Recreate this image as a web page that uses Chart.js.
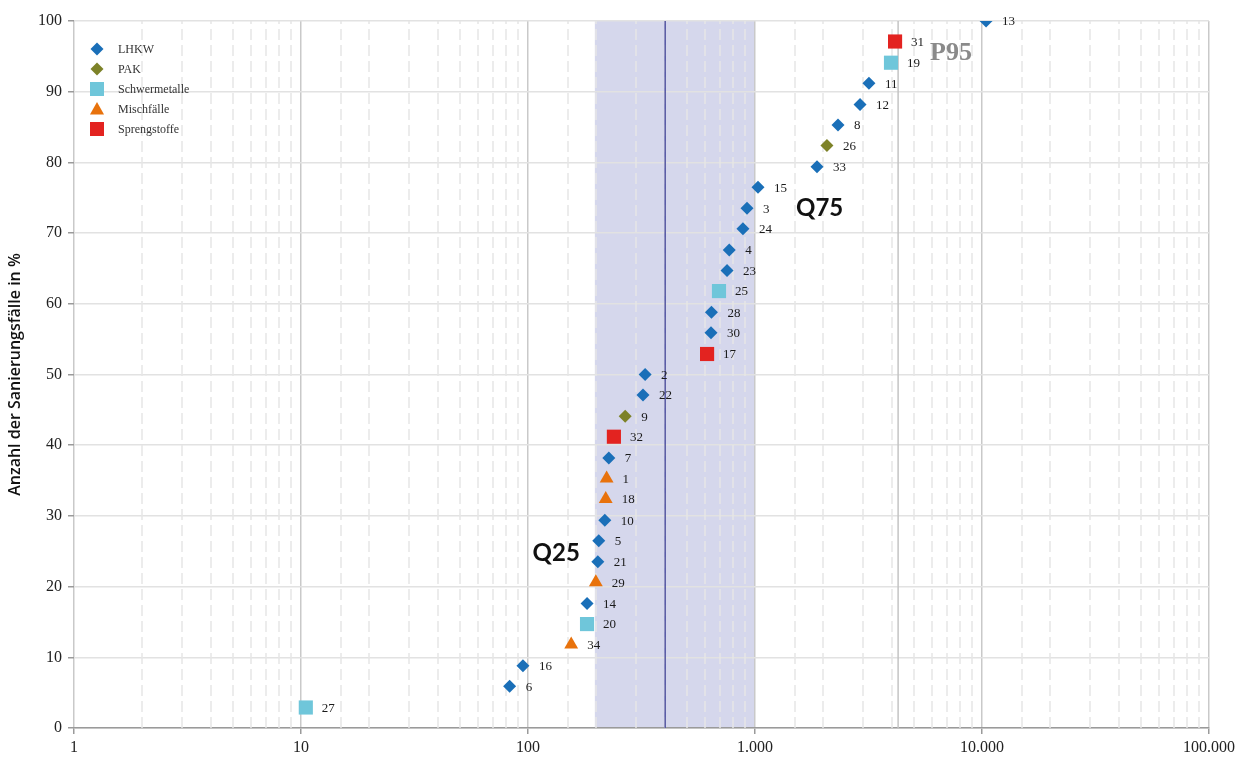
<!DOCTYPE html>
<html>
<head>
<meta charset="utf-8">
<script src="https://cdn.jsdelivr.net/npm/chart.js@4/dist/chart.umd.min.js"></script>
<style>
  html, body { margin: 0; padding: 0; background: #fff; }
  #wrap { width: 1245px; height: 758px; }
</style>
</head>
<body>
<div id="wrap"><canvas id="chart"></canvas></div>
<script>
// cases sorted by value, bottom to top
const caseIds = [27, 6, 16, 34, 20, 14, 29, 21, 5, 10, 18, 1, 7, 32, 9, 22, 2,
                 17, 30, 28, 25, 23, 4, 24, 3, 15, 33, 26, 8, 12, 11, 19, 31, 13];
const caseGroups = ['Schwermetalle', 'LHKW', 'LHKW', 'Mischfälle', 'Schwermetalle', 'LHKW',
                    'Mischfälle', 'LHKW', 'LHKW', 'LHKW', 'Mischfälle', 'Mischfälle', 'LHKW',
                    'Sprengstoffe', 'PAK', 'LHKW', 'LHKW', 'Sprengstoffe', 'LHKW', 'LHKW',
                    'Schwermetalle', 'LHKW', 'LHKW', 'LHKW', 'LHKW', 'LHKW', 'LHKW', 'PAK',
                    'LHKW', 'LHKW', 'LHKW', 'Schwermetalle', 'Sprengstoffe', 'LHKW'];
const caseValues = [10.5, 83, 95, 155, 182, 182, 199, 203, 205, 218, 220, 222, 227, 239, 268, 321, 328,
                    615, 640, 643, 694, 753, 770, 885, 922, 1031, 1876, 2075, 2321, 2902, 3177, 3973, 4140, 10420];
const casePercent = [2.9, 5.9, 8.8, 11.8, 14.7, 17.6, 20.6, 23.5, 26.5, 29.4, 32.4, 35.3, 38.2, 41.2, 44.1, 47.1, 50.0,
                     52.9, 55.9, 58.8, 61.8, 64.7, 67.6, 70.6, 73.5, 76.5, 79.4, 82.4, 85.3, 88.2, 91.2, 94.1, 97.1, 100];

const groupNames = ['LHKW', 'PAK', 'Schwermetalle', 'Mischfälle', 'Sprengstoffe'];
const groupColors = ['#1a6fb8', '#7d8228', '#6fc6da', '#e8720c', '#e32320'];
const groupShapes = ['rectRot', 'rectRot', 'rect', 'triangle', 'rect'];
const groupRadius = [6.5, 6.5, 10, 8, 10];

const xTickLabels = { 1: '1', 10: '10', 100: '100', 1000: '1.000', 10000: '10.000', 100000: '100.000' };

const q25 = 197;
const median = 402;
const q75 = 1000;
const p95 = 4270;

const serif = '"Liberation Serif", "DejaVu Serif", serif';

function isDecade(v) {
  const l = Math.log10(v);
  return Math.abs(l - Math.round(l)) < 1e-9;
}

const datasets = groupNames.map((name, g) => {
  const pts = [];
  caseIds.forEach((id, i) => {
    if (caseGroups[i] === name) pts.push({ x: caseValues[i], y: casePercent[i], id: id });
  });
  return {
    label: name,
    data: pts,
    pointStyle: groupShapes[g],
    pointRadius: groupRadius[g],
    pointHoverRadius: groupRadius[g],
    backgroundColor: groupColors[g],
    borderColor: groupColors[g],
    borderWidth: 0
  };
});

function vline(ctx, x, top, bottom) {
  ctx.beginPath();
  ctx.moveTo(x, top);
  ctx.lineTo(x, bottom);
  ctx.stroke();
}

const bandPlugin = {
  id: 'band',
  beforeDraw(chart) {
    const { ctx, chartArea, scales } = chart;
    const x1 = scales.x.getPixelForValue(q25);
    const x2 = scales.x.getPixelForValue(q75);
    ctx.save();
    ctx.fillStyle = '#d5d7ec';
    ctx.fillRect(x1, chartArea.top, x2 - x1, chartArea.bottom - chartArea.top);
    ctx.restore();
  },
  beforeDatasetsDraw(chart) {
    const { ctx, chartArea, scales } = chart;
    ctx.save();
    // dashed minor grid lines of the log axis
    ctx.strokeStyle = '#e6e6e6';
    ctx.lineWidth = 1.5;
    ctx.setLineDash([11, 5]);
    scales.x.ticks.forEach(t => {
      if (!isDecade(t.value)) {
        const x = Math.round(scales.x.getPixelForValue(t.value));
        vline(ctx, x, chartArea.bottom, chartArea.top);
      }
    });
    ctx.setLineDash([]);
    ctx.strokeStyle = '#3d4096';
    ctx.lineWidth = 1.3;
    vline(ctx, scales.x.getPixelForValue(median), chartArea.top, chartArea.bottom);
    ctx.strokeStyle = '#c4c4c4';
    ctx.lineWidth = 1.5;
    vline(ctx, scales.x.getPixelForValue(p95), chartArea.top, chartArea.bottom);
    ctx.restore();
  },
  afterDatasetsDraw(chart) {
    const { ctx, scales } = chart;
    ctx.save();
    // point labels
    ctx.font = '13px ' + serif;
    ctx.fillStyle = '#1a1a1a';
    ctx.textBaseline = 'middle';
    ctx.textAlign = 'left';
    chart.data.datasets.forEach((ds, di) => {
      const meta = chart.getDatasetMeta(di);
      meta.data.forEach((el, i) => {
        ctx.fillText(String(ds.data[i].id), el.x + 16, el.y + 1);
      });
    });
    // quantile labels
    ctx.font = 'bold 24px Lato, "Open Sans", sans-serif';
    ctx.fillStyle = '#111';
    ctx.textAlign = 'right';
    ctx.fillText('Q25', scales.x.getPixelForValue(q25) - 15, scales.y.getPixelForValue(24.7));
    ctx.textAlign = 'left';
    ctx.fillText('Q75', scales.x.getPixelForValue(q75) + 41, scales.y.getPixelForValue(73.5));
    ctx.font = 'bold 26px ' + serif;
    ctx.fillStyle = '#8a8a8a';
    ctx.fillText('P95', scales.x.getPixelForValue(p95) + 32, scales.y.getPixelForValue(95.5));
    // legend
    const lx = chart.chartArea.left + 23;
    const ly = chart.chartArea.top + 28;
    ctx.font = '12px ' + serif;
    groupNames.forEach((name, g) => {
      const y = ly + g * 20;
      ctx.fillStyle = groupColors[g];
      ctx.beginPath();
      if (groupShapes[g] === 'rectRot') {
        ctx.moveTo(lx, y - 6.5); ctx.lineTo(lx + 6.5, y); ctx.lineTo(lx, y + 6.5); ctx.lineTo(lx - 6.5, y);
      } else if (groupShapes[g] === 'triangle') {
        ctx.moveTo(lx, y - 7); ctx.lineTo(lx + 7, y + 5.5); ctx.lineTo(lx - 7, y + 5.5);
      } else {
        ctx.rect(lx - 7, y - 7, 14, 14);
      }
      ctx.closePath();
      ctx.fill();
      ctx.fillStyle = '#333';
      ctx.fillText(name, lx + 21, y + 1);
    });
    ctx.restore();
  }
};

new Chart(document.getElementById('chart'), {
  type: 'scatter',
  data: { datasets: datasets },
  plugins: [bandPlugin],
  options: {
    responsive: true,
    maintainAspectRatio: false,
    animation: false,
    events: [],
    layout: { padding: { top: 21, right: 36, left: 0, bottom: 0 } },
    plugins: { legend: { display: false }, tooltip: { enabled: false } },
    scales: {
      x: {
        type: 'logarithmic',
        min: 1,
        max: 100000,
        afterFit(scale) { scale.height = 30; },
        border: { color: '#9a9a9a', width: 1.5 },
        grid: {
          color: ctx => isDecade(ctx.tick.value) ? '#c9c9c9' : 'rgba(0,0,0,0)',
          lineWidth: 1.5,
          tickColor: ctx => isDecade(ctx.tick.value) ? '#9a9a9a' : 'rgba(0,0,0,0)',
          tickLength: 6,
          tickWidth: 1.5
        },
        ticks: {
          autoSkip: false,
          maxRotation: 0,
          padding: 4,
          color: '#222',
          font: { family: serif, size: 16 },
          callback: v => xTickLabels[v] || ''
        }
      },
      y: {
        min: 0,
        max: 100,
        afterFit(scale) { scale.width = 74; },
        border: { display: false },
        grid: { color: '#e2e2e2', lineWidth: 1.5, tickColor: '#9a9a9a', tickLength: 6 },
        ticks: {
          stepSize: 10,
          padding: 6,
          color: '#222',
          font: { family: serif, size: 16 }
        },
        title: {
          display: true,
          text: 'Anzahl der Sanierungsfälle in %',
          color: '#111',
          font: { family: '"Open Sans", sans-serif', size: 16, weight: '600' },
          padding: { top: 6, bottom: 0 }
        }
      }
    }
  }
});
</script>
</body>
</html>
